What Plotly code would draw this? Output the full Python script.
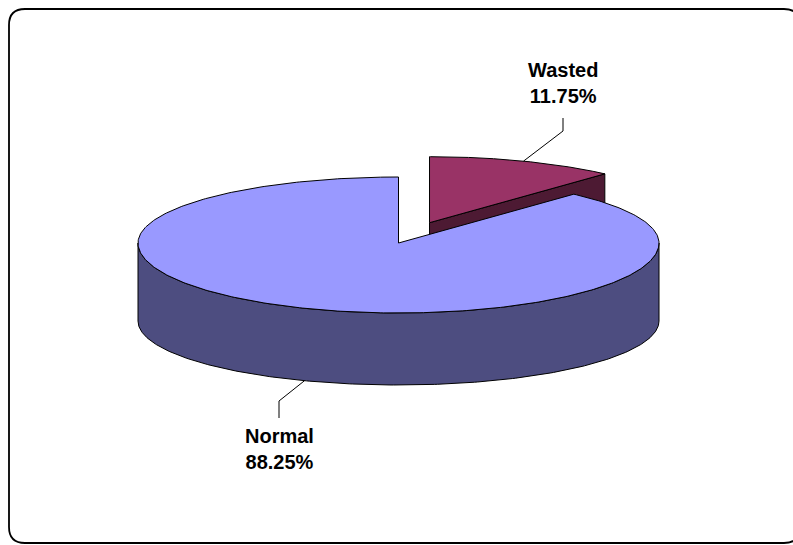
import numpy as np
import plotly.graph_objects as go

# Share of children by nutritional status
categories = ["Wasted", "Normal"]
shares = [11.75, 88.25]
explode = [0.33, 0.0]

top_colors = ["#993366", "#9999FF"]
side_colors = ["#4D1A33", "#4D4D80"]

# Pie geometry on a pixel-sized canvas (slight perspective: front half of the
# top face is a little deeper than the back half, bottom rim a little flatter)
W, H = 793, 545
CX, CY = 398.5, 243.0      # centre of the top face
RX = 260.5                 # horizontal radius
RY_BACK, RY_FRONT = 66.0, 70.0
RY_BOTTOM = 64.0
DEPTH = 78.0               # thickness of the disc

# Label anchors and leader elbows
label_pos = {"Wasted": (563, 83), "Normal": (279, 449)}
leader_elbow = {"Wasted": [(563, 118), (563, 131)], "Normal": [(279, 418), (279, 401)]}


def rim(t_deg, ox, oy, drop=0.0):
    t = np.radians(np.asarray(t_deg, dtype=float))
    c = np.cos(t)
    if drop > 0:
        ry = RY_BOTTOM
    else:
        ry = np.where(c > 0, RY_BACK, RY_FRONT)
    return CX + ox + RX * np.sin(t), CY + oy - ry * c + drop


fig = go.Figure()


def add_poly(xs, ys, fill):
    xs, ys = list(xs), list(ys)
    fig.add_trace(go.Scatter(
        x=xs + [xs[0]], y=ys + [ys[0]], mode="lines",
        fill="toself", fillcolor=fill,
        line=dict(color="black", width=1), hoverinfo="skip", showlegend=False))


total = sum(shares)
starts = np.cumsum([0] + shares[:-1]) / total * 360
ends = np.cumsum(shares) / total * 360

leader_targets = {}
for cat, s, e, ex, tc, sc in zip(categories, starts, ends, explode, top_colors, side_colors):
    mid = np.radians((s + e) / 2)
    ox = ex * RX * np.sin(mid)
    oy = -ex * RY_BACK * np.cos(mid)

    # cut faces that turn toward the viewer
    for edge, visible in ((s, np.sin(np.radians(s)) < -1e-9), (e, np.sin(np.radians(e)) > 1e-9)):
        if visible:
            rx0, ry0 = rim(edge, ox, oy)
            rx1, ry1 = rim(edge, ox, oy, DEPTH)
            add_poly([CX + ox, float(rx0), float(rx1), CX + ox],
                     [CY + oy, float(ry0), float(ry1), CY + oy + DEPTH], sc)

    # outer wall on the front half
    a0, a1 = max(s, 90), min(e, 270)
    if a1 > a0:
        tt = np.linspace(a0, a1, 240)
        tx, ty = rim(tt, ox, oy)
        bx, by = rim(tt[::-1], ox, oy, DEPTH)
        add_poly(np.concatenate([tx, bx]), np.concatenate([ty, by]), sc)

    # top face
    tt = np.linspace(s, e, 400)
    tx, ty = rim(tt, ox, oy)
    add_poly(np.concatenate([[CX + ox], tx]), np.concatenate([[CY + oy], ty]), tc)

    front = np.cos(mid) < 0
    px, py = rim((s + e) / 2, ox, oy, DEPTH if front else 0.0)
    leader_targets[cat] = (float(px), float(py))

# leader lines and labels
for cat, share in zip(categories, shares):
    pts = leader_elbow[cat] + [leader_targets[cat]]
    fig.add_trace(go.Scatter(
        x=[p[0] for p in pts], y=[p[1] for p in pts], mode="lines",
        line=dict(color="black", width=1), hoverinfo="skip", showlegend=False))
    lx, ly = label_pos[cat]
    fig.add_annotation(
        x=lx, y=ly, xref="x", yref="y", showarrow=False,
        text=f"<b>{cat}</b><br><b>{share:.2f}%</b>", align="center",
        xanchor="center", yanchor="middle",
        font=dict(family="Liberation Sans, Arial, sans-serif", size=20, color="black"))

# rounded chart frame (right edge runs past the canvas)
x0, y0, x1, y1, r = 9, 9, 800, 543, 16
frame = (f"M {x0 + r},{y0} L {x1 - r},{y0} Q {x1},{y0} {x1},{y0 + r} "
         f"L {x1},{y1 - r} Q {x1},{y1} {x1 - r},{y1} L {x0 + r},{y1} "
         f"Q {x0},{y1} {x0},{y1 - r} L {x0},{y0 + r} Q {x0},{y0} {x0 + r},{y0} Z")
fig.add_shape(type="path", path=frame, xref="x", yref="y",
              line=dict(color="black", width=1.8), layer="above")

fig.update_layout(
    width=W, height=H, margin=dict(l=0, r=0, t=0, b=0),
    paper_bgcolor="white", plot_bgcolor="white",
    xaxis=dict(range=[0, W], visible=False, fixedrange=True),
    yaxis=dict(range=[H, 0], visible=False, fixedrange=True),
    showlegend=False,
)

fig.write_html("out.html", config={"displayModeBar": False})
